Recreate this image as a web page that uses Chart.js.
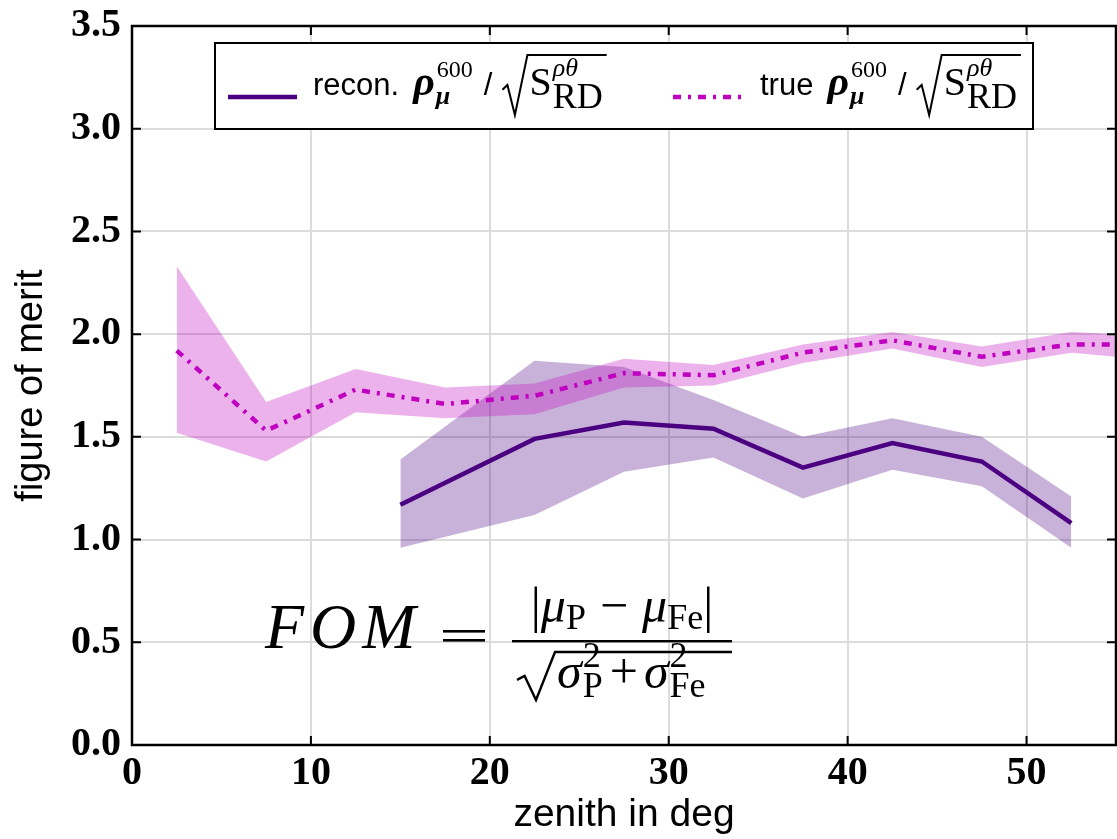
<!DOCTYPE html>
<html>
<head>
<meta charset="utf-8">
<script src="https://cdn.jsdelivr.net/npm/chart.js@4.4.1/dist/chart.umd.min.js"></script>
<style>
  html, body { margin: 0; padding: 0; background: #fff; }
  #wrap { width: 1117px; height: 839px; }
</style>
</head>
<body>
<div id="wrap"><canvas id="fom-chart" width="1117" height="839"></canvas></div>
<script>
// figure of merit vs zenith angle

const zenithRecon = [15, 22.5, 27.5, 32.5, 37.5, 42.5, 47.5, 52.5];
const fomRecon    = [1.17, 1.49, 1.57, 1.54, 1.35, 1.47, 1.38, 1.08];
const fomReconHi  = [1.39, 1.87, 1.84, 1.68, 1.50, 1.59, 1.50, 1.21];
const fomReconLo  = [0.96, 1.12, 1.33, 1.40, 1.20, 1.34, 1.26, 0.96];

const zenithTrue = [2.5, 7.5, 12.5, 17.5, 22.5, 27.5, 32.5, 37.5, 42.5, 47.5, 52.5, 57.5];
const fomTrue    = [1.92, 1.53, 1.73, 1.66, 1.70, 1.81, 1.80, 1.91, 1.97, 1.89, 1.95, 1.95];
const fomTrueHi  = [2.33, 1.67, 1.83, 1.74, 1.76, 1.88, 1.85, 1.95, 2.01, 1.94, 2.01, 1.99];
const fomTrueLo  = [1.52, 1.38, 1.62, 1.59, 1.61, 1.74, 1.75, 1.86, 1.93, 1.84, 1.91, 1.87];

const xTicks = [0, 10, 20, 30, 40, 50];
const yTicks = [0, 0.5, 1.0, 1.5, 2.0, 2.5, 3.0, 3.5];

const RECON_COLOR = '#4b0082';
const TRUE_COLOR = '#bf00bf';
const TRUE_DASH = [8, 7, 3, 7];

const SANS = '"Liberation Sans", Arial, sans-serif';
const SERIF = '"Liberation Serif", "DejaVu Serif", serif';

const pts = (xs, ys) => xs.map((x, i) => ({ x: x, y: ys[i] }));

// radical sign with overline; returns the x where the radicand starts
function drawRadical(ctx, x, top, bottom, endX, lw, w) {
    const h = bottom - top;
    ctx.save();
    ctx.lineWidth = lw;
    ctx.lineJoin = 'miter';
    ctx.beginPath();
    ctx.moveTo(x, top + h * 0.58);
    ctx.lineTo(x + w * 0.2, top + h * 0.5);
    ctx.lineTo(x + w * 0.5, bottom);
    ctx.lineTo(x + w, top);
    ctx.lineTo(endX, top);
    ctx.stroke();
    ctx.restore();
    return x + w + 2;
}

function text(ctx, str, x, y, font) {
    ctx.font = font;
    ctx.fillText(str, x, y);
    return ctx.measureText(str).width;
}

function width(ctx, str, font) {
    ctx.font = font;
    return ctx.measureText(str).width;
}

// "<word> rho_mu^600 / sqrt(S_RD^{rho theta})"
function drawLegendLabel(ctx, x, b, word) {
    x += text(ctx, word, x, b, '31px ' + SANS) + 14;
    const rw = text(ctx, 'ρ', x, b, 'italic bold 42px ' + SERIF);
    const sw = text(ctx, '600', x + rw + 2, b - 18, '24px ' + SERIF);
    text(ctx, 'μ', x + rw + 1, b + 9, 'italic bold 26px ' + SERIF);
    x += rw + sw + 13;
    x += text(ctx, '/', x, b, '31px ' + SANS) + 10;
    const Sw = width(ctx, 'S', '40px ' + SERIF);
    const rdw = width(ctx, 'RD', '36px ' + SERIF);
    const start = drawRadical(ctx, x, b - 40, b + 20, x + 27 + Sw + 1 + rdw + 4, 2, 25);
    text(ctx, 'S', start, b, '40px ' + SERIF);
    text(ctx, 'ρθ', start + Sw + 1, b - 19, 'italic 26px ' + SERIF);
    text(ctx, 'RD', start + Sw + 1, b + 13, '36px ' + SERIF);
}

// FOM = |mu_P - mu_Fe| / sqrt(sigma_P^2 + sigma_Fe^2)
function drawFormula(ctx, x, b) {
    ctx.font = 'italic 64px ' + SERIF;
    ['F', 'O', 'M'].forEach(ch => {
        ctx.fillText(ch, x, b);
        x += ctx.measureText(ch).width + 6;
    });

    // equals sign
    ctx.fillRect(443, b - 18, 42, 2.6);
    ctx.fillRect(443, b - 9, 42, 2.6);

    const fracL = 512, fracW = 220;
    const big = '50px ' + SERIF, bigIt = 'italic 50px ' + SERIF, small = '36px ' + SERIF;

    // numerator, centred over the bar
    const nb = b - 26;
    const parts = [
        ['|', big, 0, 0], ['μ', bigIt, 0, 0], ['P', small, 7, 14],
        ['−', big, 0, 14], ['μ', bigIt, 0, 0], ['Fe', small, 7, 0], ['|', big, 0, 0]
    ];
    const total = parts.reduce((s, p) => s + width(ctx, p[0], p[1]) + p[3], 0);
    let nx = fracL + (fracW - total) / 2;
    parts.forEach(p => { nx += text(ctx, p[0], nx, nb + p[2], p[1]) + p[3]; });

    // fraction bar
    ctx.fillRect(fracL, b - 8, fracW, 2.4);

    // denominator
    const db = b + 40;
    let dx = drawRadical(ctx, 517, b + 4, db + 12, fracL + fracW, 2.4, 38);
    const sg = text(ctx, 'σ', dx, db, bigIt);
    text(ctx, '2', dx + sg + 1, db - 21, small);
    dx += sg + text(ctx, 'P', dx + sg + 1, db + 9, small) + 8;
    dx += text(ctx, '+', dx, db, big) + 6;
    const sg2 = text(ctx, 'σ', dx, db, bigIt);
    text(ctx, '2', dx + sg2 + 1, db - 21, small);
    text(ctx, 'Fe', dx + sg2 + 1, db + 9, small);
}

const framePlugin = {
    id: 'frameAndNotes',
    afterDatasetsDraw(chart) {
        const { ctx, chartArea: a, scales } = chart;
        ctx.save();
        ctx.fillStyle = '#000';
        ctx.strokeStyle = '#000';

        // inward ticks on all four sides
        ctx.lineWidth = 2;
        ctx.beginPath();
        yTicks.forEach(v => {
            const y = scales.y.getPixelForValue(v);
            ctx.moveTo(a.left, y); ctx.lineTo(a.left + 9, y);
            ctx.moveTo(a.right, y); ctx.lineTo(a.right - 9, y);
        });
        xTicks.forEach(v => {
            const x = scales.x.getPixelForValue(v);
            ctx.moveTo(x, a.bottom); ctx.lineTo(x, a.bottom - 9);
            ctx.moveTo(x, a.top); ctx.lineTo(x, a.top + 9);
        });
        ctx.stroke();

        ctx.lineWidth = 2.5;
        ctx.strokeRect(a.left, a.top, a.right - a.left, a.bottom - a.top);

        // legend
        const lx = 215, ly = 43, lw = 818, lh = 86;
        ctx.fillStyle = '#fff';
        ctx.fillRect(lx, ly, lw, lh);
        ctx.lineWidth = 2;
        ctx.strokeRect(lx, ly, lw, lh);

        ctx.lineCap = 'butt';
        ctx.lineWidth = 4.5;
        ctx.strokeStyle = RECON_COLOR;
        ctx.beginPath(); ctx.moveTo(228, 97); ctx.lineTo(297, 97); ctx.stroke();
        ctx.strokeStyle = TRUE_COLOR;
        ctx.setLineDash(TRUE_DASH);
        ctx.beginPath(); ctx.moveTo(673, 97); ctx.lineTo(742, 97); ctx.stroke();
        ctx.setLineDash([]);

        ctx.fillStyle = '#000';
        ctx.strokeStyle = '#000';
        ctx.textAlign = 'left';
        ctx.textBaseline = 'alphabetic';
        drawLegendLabel(ctx, 313, 95, 'recon.');
        drawLegendLabel(ctx, 760, 95, 'true');

        drawFormula(ctx, 265, 648);
        ctx.restore();
    }
};

const band = (data, color, fill, order) => ({
    data: data,
    borderWidth: 0,
    pointRadius: 0,
    backgroundColor: color,
    fill: fill,
    tension: 0,
    order: order
});

new Chart(document.getElementById('fom-chart'), {
    type: 'line',
    data: {
        datasets: [
            band(pts(zenithRecon, fomReconHi), 'rgba(75, 0, 130, 0.3)', '+1', 5),
            band(pts(zenithRecon, fomReconLo), 'rgba(75, 0, 130, 0.3)', false, 5),
            band(pts(zenithTrue, fomTrueHi), 'rgba(191, 0, 191, 0.3)', '+1', 4),
            band(pts(zenithTrue, fomTrueLo), 'rgba(191, 0, 191, 0.3)', false, 4),
            {
                label: 'recon.',
                data: pts(zenithRecon, fomRecon),
                borderColor: RECON_COLOR,
                borderWidth: 4.5,
                pointRadius: 0,
                fill: false,
                tension: 0,
                order: 2
            },
            {
                label: 'true',
                data: pts(zenithTrue, fomTrue),
                borderColor: TRUE_COLOR,
                borderWidth: 4.5,
                borderDash: TRUE_DASH,
                borderCapStyle: 'butt',
                pointRadius: 0,
                fill: false,
                tension: 0,
                order: 1
            }
        ]
    },
    options: {
        responsive: false,
        animation: false,
        devicePixelRatio: 1,
        layout: { padding: { top: 26, right: 1, left: 0, bottom: 0 } },
        plugins: {
            legend: { display: false },
            tooltip: { enabled: false }
        },
        scales: {
            x: {
                type: 'linear',
                min: 0,
                max: 55,
                afterFit: s => { s.height = 94; },
                afterBuildTicks: s => { s.ticks = xTicks.map(v => ({ value: v })); },
                grid: { color: '#dcdcdc', lineWidth: 2, drawTicks: false },
                border: { display: false },
                ticks: {
                    color: '#000',
                    padding: 5,
                    font: { family: SERIF, size: 40, weight: 'bold' },
                    callback: v => String(v)
                },
                title: {
                    display: true,
                    text: 'zenith in deg',
                    color: '#000',
                    font: { family: SANS, size: 39 },
                    padding: { top: 0, bottom: 0 }
                }
            },
            y: {
                min: 0,
                max: 3.5,
                afterFit: s => { s.width = 132; },
                afterBuildTicks: s => { s.ticks = yTicks.map(v => ({ value: v })); },
                grid: { color: '#dcdcdc', lineWidth: 2, drawTicks: false },
                border: { display: false },
                ticks: {
                    color: '#000',
                    padding: 11,
                    font: { family: SERIF, size: 40, weight: 'bold', lineHeight: 0.7 },
                    callback: v => v.toFixed(1)
                },
                title: {
                    display: true,
                    text: 'figure of merit',
                    color: '#000',
                    font: { family: SANS, size: 38 },
                    padding: { top: 9, bottom: 0 }
                }
            }
        }
    },
    plugins: [framePlugin]
});
</script>
</body>
</html>
